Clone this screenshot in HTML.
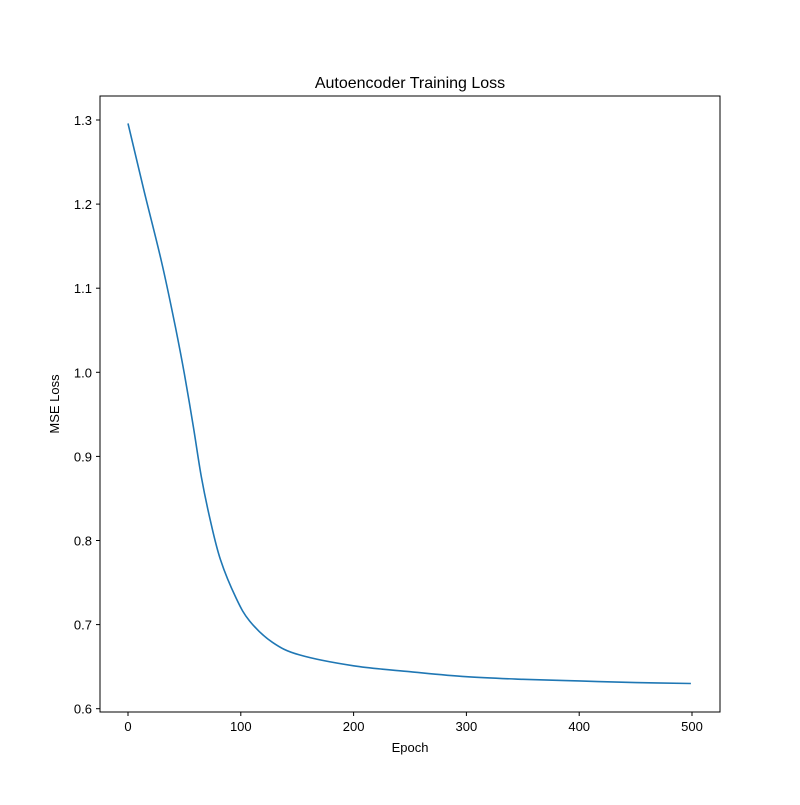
<!DOCTYPE html>
<html><head><meta charset="utf-8"><style>
body{margin:0;background:#fff;}
svg text{font-family:"Liberation Sans","DejaVu Sans",sans-serif;fill:#000;}
</style></head><body>
<svg id="chart" width="800" height="800" xmlns="http://www.w3.org/2000/svg">
<rect width="800" height="800" fill="#fff"/>
<text x="410" y="88" font-size="16" text-anchor="middle">Autoencoder Training Loss</text>
<text x="410" y="752" font-size="13" text-anchor="middle">Epoch</text>
<text x="59" y="404" font-size="13" text-anchor="middle" transform="rotate(-90 59 404)">MSE Loss</text>
<g id="ticks"></g>
<path id="line" fill="none" stroke="#1f77b4" stroke-width="1.6"/>
<rect x="100" y="96" width="620" height="616" fill="none" stroke="#000" stroke-width="1"/>
</svg>
<script>
const epochs=[0,14,30,42,50,58,65,73,82,96,108,128,152,200,250,300,350,400,450,499];
const losses=[1.296,1.217,1.130,1.054,0.998,0.935,0.876,0.824,0.777,0.731,0.704,0.679,0.664,0.651,0.644,0.638,0.635,0.633,0.631,0.630];
const xTicks=[0,100,200,300,400,500];
const yTicks=[0.6,0.7,0.8,0.9,1.0,1.1,1.2,1.3];
const xs=v=>128+v*(692-128)/500;
const ys=v=>120+(1.3-v)*841;
const ns="http://www.w3.org/2000/svg";
const g=document.getElementById('ticks');
function mk(t,a){const e=document.createElementNS(ns,t);for(const k in a)e.setAttribute(k,a[k]);g.appendChild(e);return e;}
xTicks.forEach(v=>{
 const l=mk('line',{x1:xs(v),x2:xs(v),y1:712,y2:716,stroke:'#000'});
 
 
 const t=mk('text',{x:xs(v),y:731,'font-size':13,'text-anchor':'middle'});t.textContent=v;
 
 
});
yTicks.forEach(v=>{
 const l=mk('line',{x1:96,x2:100,y1:ys(v),y2:ys(v),stroke:'#000'});
 
 
 const t=mk('text',{x:92,y:ys(v)+5,'font-size':13,'text-anchor':'end'});t.textContent=v.toFixed(1);
 
 
});
const P=epochs.map((e,i)=>[xs(e),ys(losses[i])]);
let d='M'+P[0][0].toFixed(1)+' '+P[0][1].toFixed(1);
for(let i=0;i<P.length-1;i++){
 const p0=P[Math.max(0,i-1)],p1=P[i],p2=P[i+1],p3=P[Math.min(P.length-1,i+2)];
 const c1=[p1[0]+(p2[0]-p0[0])/6,p1[1]+(p2[1]-p0[1])/6];
 const c2=[p2[0]-(p3[0]-p1[0])/6,p2[1]-(p3[1]-p1[1])/6];
 d+=' C'+c1.map(n=>n.toFixed(1)).join(' ')+' '+c2.map(n=>n.toFixed(1)).join(' ')+' '+p2[0].toFixed(1)+' '+p2[1].toFixed(1);
}
document.getElementById('line').setAttribute('d',d);
</script>
</body></html>
